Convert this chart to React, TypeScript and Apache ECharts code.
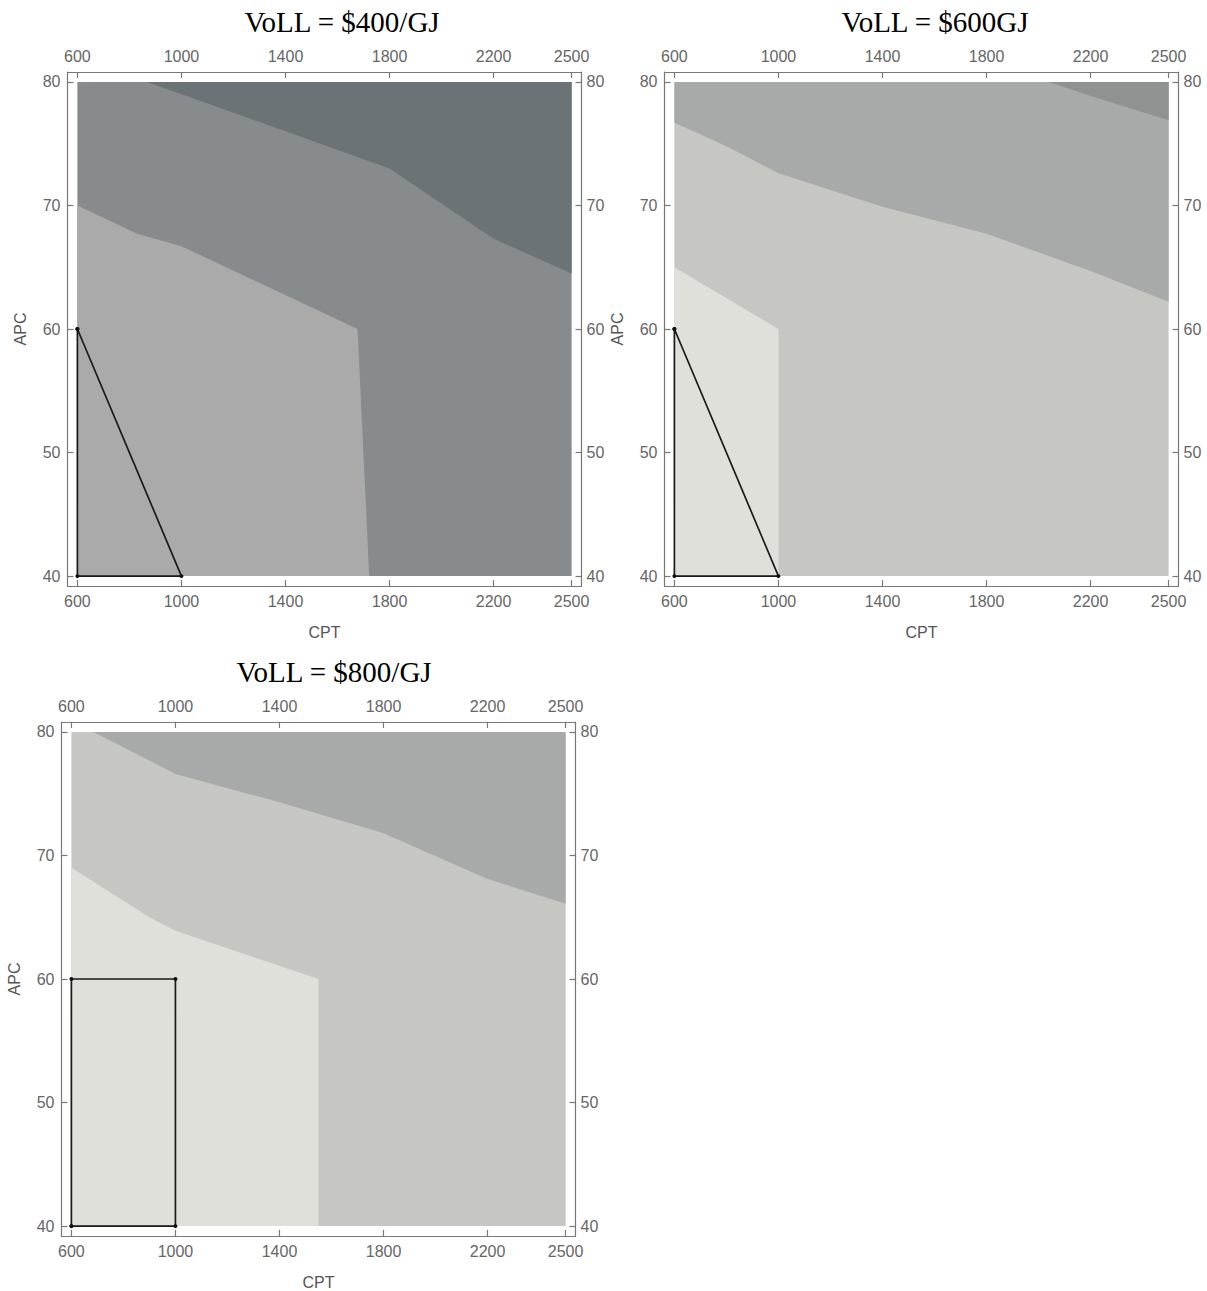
import React, { useEffect, useRef } from "react";
import * as echarts from "echarts";

// ---------- data ----------
const TITLES = ["VoLL = $400/GJ", "VoLL = $600GJ", "VoLL = $800/GJ"];
const X_NAME = "CPT";
const Y_NAME = "APC";
const X_TICKS = [600, 1000, 1400, 1800, 2200, 2500];
const Y_TICKS = [40, 50, 60, 70, 80];
const X_RANGE = [562, 2538];
const Y_RANGE = [39.2, 80.8];

// contour regions (CPT, APC) per panel
const P1_BASE = [[600, 40], [2500, 40], [2500, 80], [600, 80]];
const P1_DARK = [[866, 80], [1000, 79], [1800, 73], [2200, 67.3], [2500, 64.5], [2500, 80]];
const P1_LIGHT = [[600, 40], [600, 70], [830, 67.7], [1000, 66.7], [1677, 60], [1722, 40]];

const P2_BASE = [[600, 40], [2500, 40], [2500, 80], [600, 80]];
const P2_MID = [[600, 80], [600, 76.7], [800, 74.8], [1000, 72.6], [1400, 69.9], [1800, 67.7], [2200, 64.7], [2500, 62.2], [2500, 80]];
const P2_DARK = [[2040, 80], [2200, 78.85], [2500, 76.9], [2500, 80]];
const P2_LIGHTEST = [[600, 40], [600, 65], [1000, 60], [1000, 40]];

const P3_BASE = [[600, 40], [2500, 40], [2500, 80], [600, 80]];
const P3_MID = [[685, 80], [1000, 76.6], [1400, 74.3], [1800, 71.8], [2200, 68.1], [2500, 66.1], [2500, 80]];
const P3_LIGHTEST = [[600, 40], [600, 69], [900, 65], [1000, 63.9], [1550, 60], [1550, 40]];

// feasible-region outlines
const TRIANGLE = [[600, 60], [1000, 40], [600, 40], [600, 60]];
const RECTANGLE = [[600, 40], [600, 60], [1000, 60], [1000, 40], [600, 40]];

// ---------- styling ----------
const C1_DARK = "#6c7376";
const C1_MID = "#878b8d";
const C1_LIGHT = "#a9aaa9";
const C_DARK = "#8e9392";
const C_MID = "#a8aaa9";
const C_LIGHT = "#c6c7c2";
const C_LIGHTEST = "#dfe0da";

const PANELS = [
  {
    grid: { left: 67.5, top: 72, width: 514, height: 514 },
    titleX: 342,
    titleY: 7,
    regions: [
      { pts: P1_BASE, color: C1_MID },
      { pts: P1_DARK, color: C1_DARK },
      { pts: P1_LIGHT, color: C1_LIGHT },
    ],
    outline: TRIANGLE,
  },
  {
    grid: { left: 664.5, top: 72, width: 514, height: 514 },
    titleX: 935,
    titleY: 7,
    regions: [
      { pts: P2_BASE, color: C_LIGHT },
      { pts: P2_MID, color: C_MID },
      { pts: P2_DARK, color: C_DARK },
      { pts: P2_LIGHTEST, color: C_LIGHTEST },
    ],
    outline: TRIANGLE,
  },
  {
    grid: { left: 61.5, top: 722, width: 514, height: 514 },
    titleX: 334,
    titleY: 657,
    regions: [
      { pts: P3_BASE, color: C_LIGHT },
      { pts: P3_MID, color: C_MID },
      { pts: P3_LIGHTEST, color: C_LIGHTEST },
    ],
    outline: RECTANGLE,
  },
];

const SANS = "'Liberation Sans', Arial, sans-serif";
const SERIF = "'Liberation Serif', 'Times New Roman', serif";
const FRAME = "#787878";
const LABEL = "#666666";
const plain = (v: number) => String(v);

function xAxis(gi: number, pos: "bottom" | "top") {
  const a: any = {
    type: "value",
    gridIndex: gi,
    position: pos,
    min: X_RANGE[0],
    max: X_RANGE[1],
    axisLine: { show: true, onZero: false, lineStyle: { color: FRAME, width: 1.2 } },
    axisTick: { show: true, inside: true, length: 6, customValues: X_TICKS, lineStyle: { color: FRAME, width: 1.2 } },
    axisLabel: { customValues: X_TICKS, formatter: plain, color: LABEL, fontSize: 16, fontFamily: SANS, margin: pos === "bottom" ? 7 : 8 },
    splitLine: { show: false },
  };
  if (pos === "bottom") {
    a.name = X_NAME;
    a.nameLocation = "middle";
    a.nameGap = 38;
    a.nameTextStyle = { color: "#555555", fontSize: 16, fontFamily: SANS };
  }
  return a;
}

function yAxis(gi: number, pos: "left" | "right") {
  const a: any = {
    type: "value",
    gridIndex: gi,
    position: pos,
    min: Y_RANGE[0],
    max: Y_RANGE[1],
    axisLine: { show: true, onZero: false, lineStyle: { color: FRAME, width: 1.2 } },
    axisTick: { show: true, inside: true, length: 6, customValues: Y_TICKS, lineStyle: { color: FRAME, width: 1.2 } },
    axisLabel: { customValues: Y_TICKS, formatter: plain, color: LABEL, fontSize: 16, fontFamily: SANS, margin: pos === "left" ? 7 : 5 },
    splitLine: { show: false },
  };
  if (pos === "left") {
    a.name = Y_NAME;
    a.nameLocation = "middle";
    a.nameGap = 39;
    a.nameRotate = 90;
    a.nameTextStyle = { color: "#555555", fontSize: 16, fontFamily: SANS };
  }
  return a;
}

export default function App() {
  const ref = useRef<HTMLDivElement>(null);

  useEffect(() => {
    document.body.style.margin = "0";
    if (!ref.current) return;
    const chart = echarts.init(ref.current, undefined, { renderer: "svg" });

    const grids: any[] = [];
    const xAxes: any[] = [];
    const yAxes: any[] = [];
    const series: any[] = [];
    const graphics: any[] = [];

    PANELS.forEach((p, gi) => {
      grids.push({ ...p.grid, containLabel: false, show: false });
      xAxes.push(xAxis(gi, "bottom"), xAxis(gi, "top"));
      yAxes.push(yAxis(gi, "left"), yAxis(gi, "right"));
      const regions = p.regions;
      series.push({
        type: "custom",
        coordinateSystem: "cartesian2d",
        xAxisIndex: gi * 2,
        yAxisIndex: gi * 2,
        silent: true,
        clip: false,
        z: 1,
        data: regions.map((r) => r.pts[0]),
        encode: { x: 0, y: 1 },
        renderItem: (params: any, api: any) => {
          const r = regions[params.dataIndex];
          return {
            type: "polygon",
            shape: { points: r.pts.map((pt) => api.coord(pt)) },
            style: { fill: r.color },
          };
        },
      });
      series.push({
        type: "line",
        xAxisIndex: gi * 2,
        yAxisIndex: gi * 2,
        data: p.outline,
        z: 5,
        silent: true,
        symbol: "circle",
        symbolSize: 4,
        itemStyle: { color: "#111111" },
        lineStyle: { color: "#1a1a1a", width: 1.7 },
      });
      graphics.push({
        type: "text",
        x: p.titleX,
        y: p.titleY,
        style: {
          text: TITLES[gi],
          fill: "#000000",
          fontSize: 29,
          fontFamily: SERIF,
          align: "center",
          verticalAlign: "top",
        },
      });
    });

    chart.setOption({
      animation: false,
      backgroundColor: "#ffffff",
      grid: grids,
      xAxis: xAxes,
      yAxis: yAxes,
      series,
      graphic: graphics,
    });

    return () => chart.dispose();
  }, []);

  return <div ref={ref} style={{ width: 1207, height: 1291 }} />;
}
